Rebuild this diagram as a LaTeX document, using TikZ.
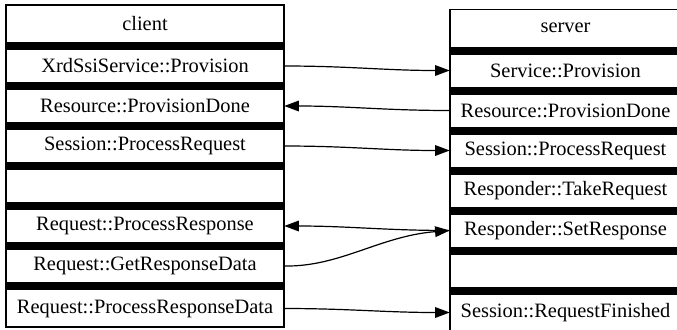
\documentclass[tikz,border=0pt]{standalone}
\usepackage{fontspec}
\setmainfont{Liberation Serif}
\newfontfamily\cellfont{Liberation Serif}
\usetikzlibrary{arrows.meta}
\tikzset{
  cellC/.style={minimum width=208.5pt, minimum height=24pt, inner sep=0pt, font=\cellfont\fontsize{15.3}{18}\selectfont},
  cellS/.style={minimum width=173.25pt, minimum height=24pt, inner sep=0pt, font=\cellfont\fontsize{15.3}{18}\selectfont},
  frame/.style={draw=black, line width=0.9pt},
  bar/.style={fill=black},
  arr/.style={draw=black, line width=0.9pt, -{Triangle[length=11pt,width=8pt]}},
}
\begin{document}
\begin{tikzpicture}[x=0.75pt,y=-0.75pt]
\useasboundingbox (0,0) rectangle (677,329);
\begin{scope}
\clip (0,0) rectangle (677,329);
% client
\fill[white] (6,5) rectangle (284,327);
\foreach \k in {0,...,6} {\fill[bar] (6,42+40*\k) rectangle (284,50+40*\k);}
\draw[frame] (6,5) rectangle (284,327);
\node[cellC] (cH) at (145,23.5) {client};
\node[cellC] (cP) at (145,66) {XrdSsiService::Provision};
\node[cellC] (cPD) at (145,106) {Resource::ProvisionDone};
\node[cellC] (cPR) at (145,146) {Session::ProcessRequest};
\node[cellC] (cE) at (145,186) {};
\node[cellC] (cResp) at (145,226) {Request::ProcessResponse};
\node[cellC] (cGet) at (145,266) {Request::GetResponseData};
\node[cellC] (cPRD) at (145,308.5) {Request::ProcessResponseData};
% server
\fill[white] (450,9.5) rectangle (681,333);
\foreach \k in {0,...,6} {\fill[bar] (450,46.5+40*\k) rectangle (681,54.5+40*\k);}
\draw[frame] (450,9.5) rectangle (681,333);
\node[cellS] (sH) at (565.5,28) {server};
\node[cellS] (sP) at (565.5,70.5) {Service::Provision};
\node[cellS] (sPD) at (565.5,110.5) {Resource::ProvisionDone};
\node[cellS] (sPR) at (565.5,150.5) {Session::ProcessRequest};
\node[cellS] (sT) at (565.5,190.5) {Responder::TakeRequest};
\node[cellS] (sSet) at (565.5,230.5) {Responder::SetResponse};
\node[cellS] (sE) at (565.5,270.5) {};
\node[cellS] (sRF) at (565.5,312.5) {Session::RequestFinished};
\end{scope}
% connectors
\draw[arr] (cP.east) to[out=0,in=180] (sP.west);
\draw[arr] (sPD.west) to[out=180,in=0] (cPD.east);
\draw[arr] (cPR.east) to[out=0,in=180] (sPR.west);
\draw[arr] (sSet.west) to[out=180,in=0] (cResp.east);
\draw[arr] (cGet.east) .. controls (340,267) and (380,236) .. (sSet.west);
\draw[arr] (cPRD.east) to[out=0,in=180] (sRF.west);
\end{tikzpicture}
\end{document}
